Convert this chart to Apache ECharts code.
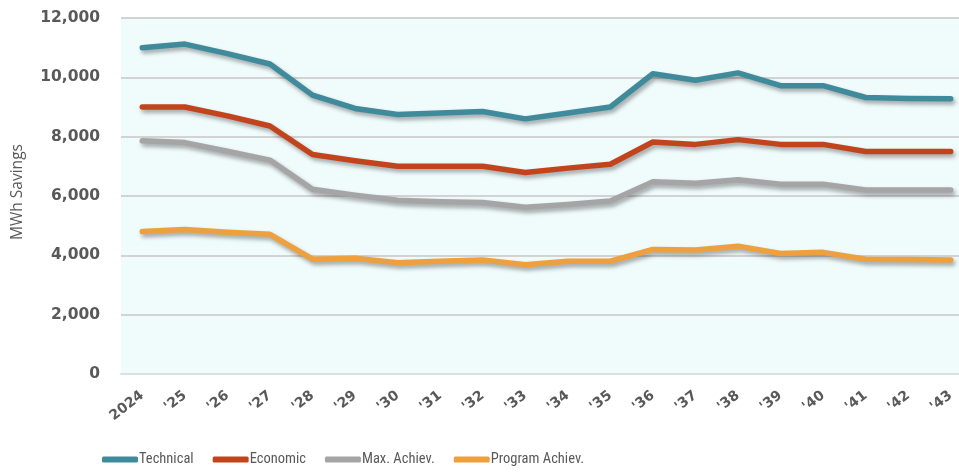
<!DOCTYPE html>
<html>
<head>
<meta charset="utf-8">
<script src="https://cdn.jsdelivr.net/npm/echarts@6/dist/echarts.min.js"></script>
<style>
  html, body { margin: 0; padding: 0; background: #ffffff; }
  #chart { width: 959px; height: 472px; }
</style>
</head>
<body>
<div id="chart"></div>
<script>
// Forecast years
const years = ['2024', "'25", "'26", "'27", "'28", "'29", "'30", "'31", "'32", "'33",
               "'34", "'35", "'36", "'37", "'38", "'39", "'40", "'41", "'42", "'43"];

// MWh savings potential by scenario
const technical = [11000, 11120, 10800, 10450, 9400, 8950, 8750, 8800, 8850, 8600,
                   8800, 9000, 10120, 9900, 10150, 9720, 9720, 9320, 9290, 9280];
const economic  = [9000, 9000, 8700, 8360, 7400, 7190, 7000, 7000, 7000, 6790,
                   6940, 7070, 7820, 7740, 7900, 7740, 7740, 7500, 7500, 7500];
const maxAchiev = [7860, 7800, 7510, 7210, 6230, 6030, 5860, 5810, 5780, 5620,
                   5710, 5830, 6480, 6430, 6550, 6400, 6400, 6200, 6200, 6200];
const progAchiev = [4800, 4870, 4780, 4710, 3870, 3900, 3750, 3800, 3840, 3680,
                    3800, 3800, 4200, 4180, 4310, 4060, 4100, 3870, 3860, 3840];

const yTicks = { min: 0, max: 12000, interval: 2000 };

const seriesDefs = [
  { name: 'Technical', data: technical, color: '#3f8a9b' },
  { name: 'Economic', data: economic, color: '#c2441c' },
  { name: 'Max. Achiev.', data: maxAchiev, color: '#a5a5a5' },
  { name: 'Program Achiev.', data: progAchiev, color: '#eea03e' }
];

const labelFont = "'DejaVu Sans', sans-serif";

const chart = echarts.init(document.getElementById('chart'), null, { renderer: 'canvas' });

chart.setOption({
  animation: false,
  backgroundColor: '#ffffff',
  // the plot runs past the right edge so the last year sits near the border
  grid: {
    left: 121, top: 18, width: 851, bottom: 98,
    outerBoundsMode: 'none', containLabel: false,
    show: true, backgroundColor: '#f0fbfc', borderWidth: 0
  },
  legend: {
    left: 97, top: 447,
    itemWidth: 36, itemHeight: 6, itemGap: 19,
    icon: 'roundRect',
    textStyle: {
      fontFamily: "'Roboto Condensed', 'Liberation Sans Narrow', sans-serif",
      fontSize: 14.5, color: '#595959', padding: [0, 0, 0, -4]
    },
    data: seriesDefs.map(s => s.name)
  },
  xAxis: {
    type: 'category',
    data: years,
    boundaryGap: true,
    axisLine: { show: true, lineStyle: { color: '#d6e2e6', width: 2 } },
    axisTick: { show: false },
    axisLabel: {
      rotate: 38, margin: 20, interval: 0,
      fontFamily: labelFont, fontWeight: 'bold',
      fontSize: 14, color: '#595959'
    },
    splitLine: { show: false }
  },
  yAxis: {
    type: 'value',
    min: yTicks.min, max: yTicks.max, interval: yTicks.interval,
    name: 'MWh Savings',
    nameLocation: 'middle',
    nameGap: 95,
    nameTextStyle: {
      fontFamily: "'Open Sans', sans-serif", fontSize: 15.5, color: '#595959',
      padding: [0, 0, 0, 8]
    },
    axisLine: { show: false },
    axisTick: { show: false },
    axisLabel: {
      margin: 21,
      fontFamily: labelFont, fontWeight: 'bold',
      fontSize: 15.5, color: '#595959',
      formatter: v => v.toLocaleString('en-US')
    },
    splitLine: { lineStyle: { color: '#d3d3d3', width: 2 } }
  },
  series: seriesDefs.map(s => ({
    name: s.name,
    type: 'line',
    data: s.data,
    symbol: 'none',
    color: s.color,
    lineStyle: {
      width: 5.5, color: s.color, cap: 'round', join: 'round',
      shadowColor: 'rgba(0,0,0,0.35)', shadowBlur: 4,
      shadowOffsetX: 2, shadowOffsetY: 3
    },
    itemStyle: { color: s.color }
  }))
});
</script>
</body>
</html>
